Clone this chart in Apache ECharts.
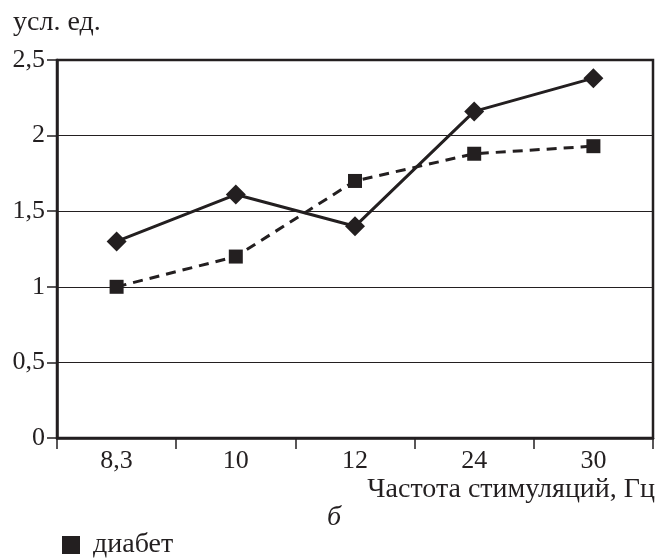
<!DOCTYPE html>
<html><head><meta charset="utf-8">
<script src="https://cdn.jsdelivr.net/npm/echarts@6/dist/echarts.min.js"></script>
<style>html,body{margin:0;padding:0;background:#fff}#c{width:670px;height:559px}</style>
</head><body><div id="c"></div>
<script>
const categories = ['8,3', '10', '12', '24', '30'];
const controlValues = [1.30, 1.61, 1.40, 2.16, 2.38];
const diabetesValues = [1.00, 1.20, 1.70, 1.88, 1.93];
const yTicks = [0, 0.5, 1, 1.5, 2, 2.5];

const ink = '#231f20';
const serif = '"Liberation Serif", "Times New Roman", serif';
const chart = echarts.init(document.getElementById('c'));
chart.setOption({
  animation: false,
  backgroundColor: '#fff',
  textStyle: { fontFamily: serif, color: ink },
  grid: { left: 57, right: 17, top: 60, bottom: 121, show: true, borderColor: ink, borderWidth: 2.5 },
  legend: {
    data: [{ name: 'диабет', icon: 'rect' }],
    left: 62, top: 531, padding: 0, itemWidth: 18, itemHeight: 18, itemGap: 10,
    textStyle: { fontFamily: serif, fontSize: 28, color: ink, padding: [0, 0, 0, 8] }
  },
  xAxis: {
    type: 'category', data: categories, boundaryGap: true,
    axisLine: { lineStyle: { color: ink, width: 2.5 } },
    axisTick: { show: true, length: 11, lineStyle: { color: ink, width: 1.5 } },
    axisLabel: { fontFamily: serif, fontSize: 26, color: ink, margin: 10 }
  },
  yAxis: {
    type: 'value', min: 0, max: 2.5, interval: 0.5,
    axisLine: { show: true, lineStyle: { color: ink, width: 2.5 } },
    axisTick: { show: true, length: 10, lineStyle: { color: ink, width: 1.5 } },
    axisLabel: { fontFamily: serif, fontSize: 26, color: ink, margin: 12,
      formatter: v => String(v).replace('.', ',') },
    splitLine: { show: true, lineStyle: { color: ink, width: 1 } }
  },
  graphic: [
    { type: 'text', left: 13, top: 9, style: { text: 'усл. ед.', font: '28px ' + serif, fill: ink } },
    { type: 'text', right: 15, top: 476, style: { text: 'Частота стимуляций, Гц', font: '28px ' + serif, fill: ink } },
    { type: 'text', left: 327, top: 504, style: { text: 'б', font: 'italic 28px ' + serif, fill: ink } }
  ],
  series: [
    { name: 'контроль', type: 'line', data: controlValues, symbol: 'diamond', symbolSize: 20,
      itemStyle: { color: ink }, lineStyle: { color: ink, width: 3 }, z: 3 },
    { name: 'диабет', type: 'line', data: diabetesValues, symbol: 'rect', symbolSize: 14,
      itemStyle: { color: ink }, lineStyle: { color: ink, width: 3, type: [10, 7] }, z: 2 }
  ]
});
</script></body></html>
